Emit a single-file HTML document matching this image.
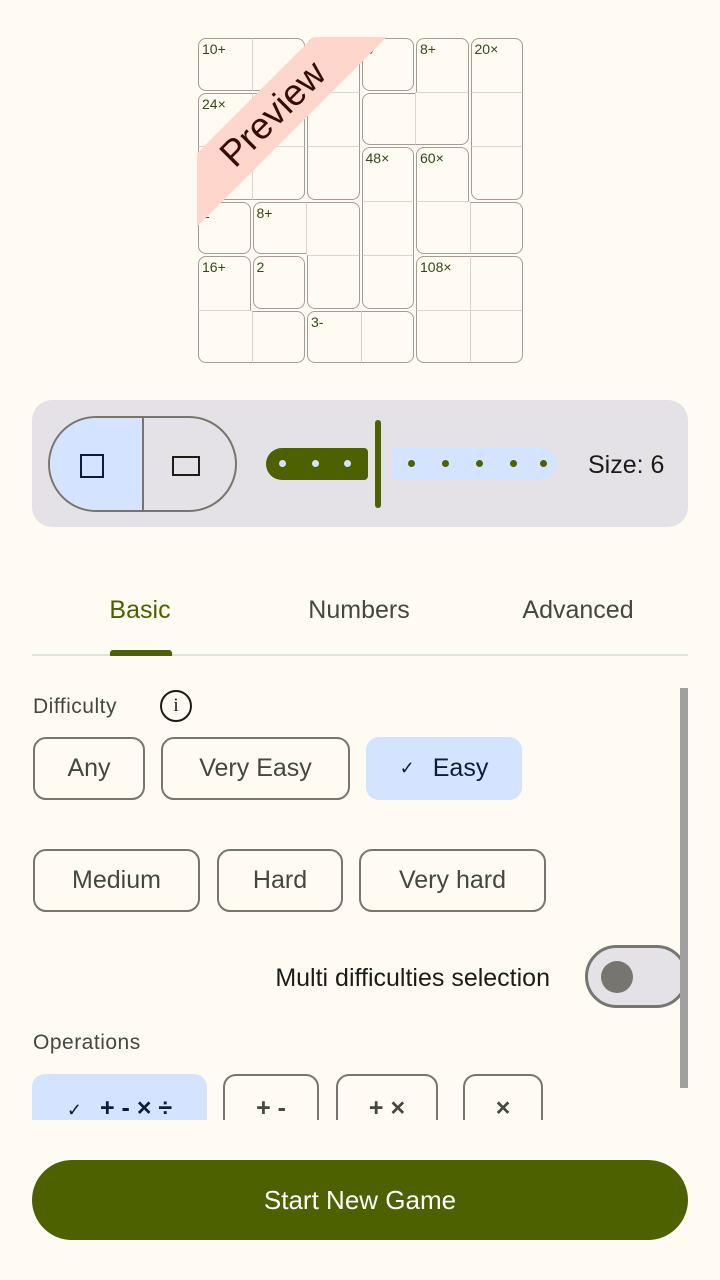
<!DOCTYPE html>
<html><head><meta charset="utf-8"><style>
*{box-sizing:border-box;margin:0;padding:0}
body{width:720px;height:1280px;background:#fffbf3;font-family:"Liberation Sans",sans-serif;position:relative;overflow:hidden;color:#1b1c18}
.a{position:absolute}
.chip{position:absolute;border:2px solid #77756f;border-radius:13px;display:flex;align-items:center;justify-content:center;font-size:25px;color:#44483d}
.chip.sel{background:#d4e3ff;border-color:#d4e3ff;color:#0d1d35}
.tab{position:absolute;top:596px;font-size:25px;color:#44483d;transform:translateX(-50%)}
.dot{position:absolute;width:7px;height:7px;border-radius:50%}
</style></head><body>
<div class="a" id="grid" style="left:197px;top:37px;width:327px;height:327px;overflow:hidden"></div>

<div class="a" style="left:32px;top:400px;width:656px;height:127px;background:#e4e2e6;border-radius:20px"></div>
<div class="a" style="left:48px;top:416px;width:189px;height:96px;border:2px solid #77756f;border-radius:48px;overflow:hidden">
 <div class="a" style="left:0;top:0;width:94px;height:92px;background:#d4e3ff;border-right:2px solid #77756f"></div>
 <div class="a" style="left:30px;top:36px;width:24px;height:24px;border:2px solid #0d1d35"></div>
 <div class="a" style="left:122px;top:38px;width:28px;height:20px;border:2px solid #1b1c18"></div>
</div>
<div class="a" style="left:266px;top:448px;width:102px;height:32px;background:#4d6100;border-radius:16px 4px 4px 16px"></div>
<div class="a" style="left:375px;top:420px;width:6px;height:88px;background:#4d6100;border-radius:3px"></div>
<div class="a" style="left:392px;top:448px;width:165px;height:32px;background:#d4e3ff;border-radius:4px 16px 16px 4px"></div>
<div id="dots"></div>
<div class="a" style="left:588px;top:451px;font-size:25px">Size: 6</div>

<div class="tab" style="left:140px;color:#4d6100">Basic</div>
<div class="tab" style="left:359px">Numbers</div>
<div class="tab" style="left:578px">Advanced</div>
<div class="a" style="left:32px;top:654px;width:656px;height:2px;background:#e2e3d8"></div>
<div class="a" style="left:110px;top:650px;width:62px;height:6px;background:#4d6100;border-radius:3px 3px 0 0"></div>

<div class="a" style="left:33px;top:695px;font-size:21px;color:#44483d;letter-spacing:0.5px">Difficulty</div>
<div class="a" style="left:160px;top:690px;width:32px;height:32px;border:2.5px solid #1b1c18;border-radius:50%;text-align:center;font-size:19px;line-height:27px;font-family:'Liberation Serif',serif">i</div>

<div class="chip" style="left:33px;top:737px;width:112px;height:63px">Any</div>
<div class="chip" style="left:161px;top:737px;width:189px;height:63px">Very Easy</div>
<div class="chip sel" style="left:366px;top:737px;width:156px;height:63px"><span style="font-size:18px;margin-right:18px">✓</span>Easy</div>
<div class="chip" style="left:33px;top:849px;width:167px;height:63px">Medium</div>
<div class="chip" style="left:217px;top:849px;width:126px;height:63px">Hard</div>
<div class="chip" style="left:359px;top:849px;width:187px;height:63px">Very hard</div>

<div class="a" style="left:200px;width:350px;text-align:right;top:964px;font-size:25px">Multi difficulties selection</div>
<div class="a" style="left:585px;top:945px;width:103px;height:63px;border:3px solid #77756f;border-radius:32px;background:#e4e2e6">
 <div class="a" style="left:13px;top:13px;width:32px;height:32px;border-radius:50%;background:#77756f"></div>
</div>
<div class="a" style="left:680px;top:688px;width:8px;height:400px;background:#a0a0a0"></div>

<div class="a" style="left:33px;top:1031px;font-size:21px;color:#44483d;letter-spacing:0.5px">Operations</div>
<div class="a" style="left:0;top:1060px;width:720px;height:60px;overflow:hidden">
<div class="chip sel" style="left:32px;top:14px;width:175px;height:63px;align-items:flex-start;padding-top:18px;font-weight:bold"><span style="font-size:18px;margin-right:18px;margin-top:6px;font-weight:normal">✓</span>+ - × ÷</div>
<div class="chip" style="left:223px;top:14px;width:96px;height:63px;align-items:flex-start;padding-top:18px;font-weight:bold">+ -</div>
<div class="chip" style="left:336px;top:14px;width:102px;height:63px;align-items:flex-start;padding-top:18px;font-weight:bold">+ ×</div>
<div class="chip" style="left:463px;top:14px;width:80px;height:63px;align-items:flex-start;padding-top:18px;font-weight:bold">×</div>
</div>

<div class="a" style="left:32px;top:1160px;width:656px;height:80px;background:#4d6100;border-radius:40px;color:#fff;font-size:26px;display:flex;align-items:center;justify-content:center">Start New Game</div>

<script>
const cageIds=[
 [0,0,2,3,4,5],
 [1,1,2,4,4,5],
 [1,1,2,6,7,5],
 [8,9,9,6,7,7],
 [10,11,9,6,12,12],
 [10,10,13,13,12,12]];
const cageLabels={"0,0":"10+","1,0":"24×","0,3":"6","0,4":"8+","0,5":"20×","2,3":"48×","2,4":"60×","3,0":"1","3,1":"8+","4,0":"16+","4,1":"2","5,2":"3-","4,4":"108×"};
const g=document.getElementById('grid');
const cs=327/6;
for(let r=0;r<6;r++)for(let c=0;c<6;c++){
 const id=cageIds[r][c];
 const t=r==0||cageIds[r-1][c]!=id,b=r==5||cageIds[r+1][c]!=id,l=c==0||cageIds[r][c-1]!=id,ri=c==5||cageIds[r][c+1]!=id;
 const d=document.createElement('div');
 
 
 const col='#a89a96',lc='#ddd3cf';
 d.style.cssText=`position:absolute;left:${c*cs+(l?1:0)}px;top:${r*cs+(t?1:0)}px;width:${cs-(l?1:0)-(ri?1:0)}px;height:${cs-(t?1:0)-(b?1:0)}px;`+
 `border-top:${t?'1.5px solid '+col:'1px solid '+lc};border-left:${l?'1.5px solid '+col:'1px solid '+lc};border-right:${ri?'1.5px solid '+col:'none'};border-bottom:${b?'1.5px solid '+col:'none'};`+
 `border-radius:${t&&l?8:0}px ${t&&ri?8:0}px ${b&&ri?8:0}px ${b&&l?8:0}px;font-size:14px;color:#34471a;padding:2px 0 0 3px`;
 const k=r+','+c;if(cageLabels[k])d.textContent=cageLabels[k];
 g.appendChild(d);
}
const rb=document.createElement('div');


rb.style.cssText='position:absolute;left:-124px;top:51px;width:400px;height:52px;background:#ffd6cc;transform:rotate(-45deg);text-align:center;font-size:37px;line-height:52px;color:#3a0b03';
rb.textContent='Preview';
g.appendChild(rb);
const dots=document.getElementById('dots');
const dotX=[282,315,347,411,445,479,513,543];
dotX.forEach((x,i)=>{const d=document.createElement('div');


d.className='dot a';d.style.left=(x-3.5)+'px';d.style.top='460px';d.style.background=i<3?'#d4e3ff':'#4d6100';dots.appendChild(d);});
</script>
</body></html>
